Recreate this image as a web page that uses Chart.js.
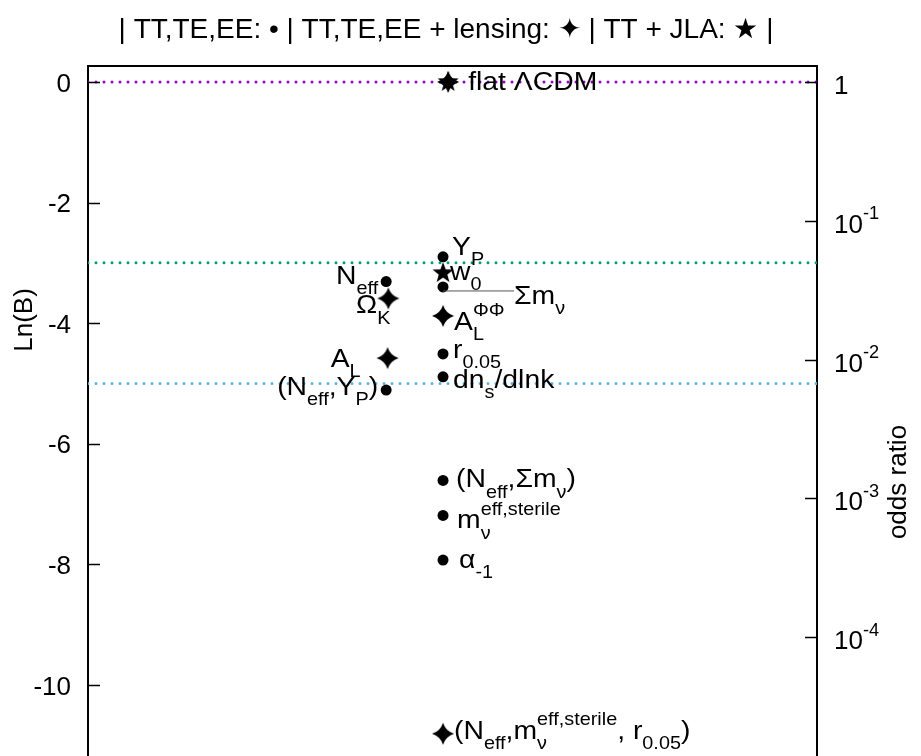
<!DOCTYPE html>
<html>
<head>
<meta charset="utf-8">
<script src="https://cdn.jsdelivr.net/npm/chart.js@4/dist/chart.umd.min.js"></script>
<style>
  html, body { margin: 0; padding: 0; background: #fff; overflow: hidden; }
  canvas { display: block; }
</style>
</head>
<body>
<canvas id="c" width="921" height="756"></canvas>
<script>
// Bayes factors of extended models relative to flat ΛCDM
const titleText = '| TT,TE,EE: • | TT,TE,EE + lensing: ✦ | TT + JLA: ★ |';

// TT,TE,EE (filled circles)
const ttteeeModels = ['flat ΛCDM', 'Y_{P}', 'Σm_{ν}', 'r_{0.05}', 'dn_{s}/dlnk',
  '(N_{eff},Σm_{ν})', 'm_{ν}^{eff,sterile}', 'α_{-1}', 'N_{eff}', '(N_{eff},Y_{P})'];
const ttteeeLnB = [0, -2.90, -3.40, -4.51, -4.89, -6.61, -7.19, -7.93, -3.31, -5.11];
const ttteeeColumn = [4.94, 4.87, 4.87, 4.87, 4.87, 4.87, 4.87, 4.87, 4.09, 4.09];

// TT,TE,EE + lensing (four-pointed stars)
const lensingModels = ['flat ΛCDM', 'A_{L}^{ΦΦ}', '(N_{eff},m_{ν}^{eff,sterile}, r_{0.05})', 'Ω_{K}', 'A_{L}'];
const lensingLnB = [0, -3.88, -10.81, -3.59, -4.58];
const lensingColumn = [4.94, 4.87, 4.87, 4.12, 4.11];

// TT + JLA (five-pointed stars)
const jlaModels = ['flat ΛCDM', 'w_{0}'];
const jlaLnB = [0, -3.17];
const jlaColumn = [4.94, 4.87];

// reference evidence levels
const levelLnB = [0, -3, -5];
const levelColors = ['#9400d3', '#009e73', '#56b4e9'];

// axis ticks
const lnBTicks = [0, -2, -4, -6, -8, -10];
const oddsExponents = [0, -1, -2, -3, -4];

const FAMILY = '"Liberation Sans", Arial, Helvetica, sans-serif';
const TICK_SIZE = 26;
const LABEL_SIZE = 26;
const LABEL_STRETCH = 1.09;

// label placement around each marker (pixels, baseline-relative)
const labelPlacement = {
  'flat ΛCDM': { dx: 20, dy: 8 },
  'Y_{P}': { dx: 9, dy: -2 },
  'w_{0}': { dx: 7, dy: 7 },
  'Σm_{ν}': { dx: 71, dy: 17, leader: 4 },
  'A_{L}^{ΦΦ}': { dx: 11, dy: 14 },
  'r_{0.05}': { dx: 10, dy: 4 },
  'dn_{s}/dlnk': { dx: 10, dy: 11 },
  '(N_{eff},Σm_{ν})': { dx: 13, dy: 7 },
  'm_{ν}^{eff,sterile}': { dx: 14, dy: 13 },
  'α_{-1}': { dx: 16, dy: 8 },
  '(N_{eff},m_{ν}^{eff,sterile}, r_{0.05})': { dx: 11, dy: 5 },
  'N_{eff}': { dx: -8, dy: 2, align: 'right' },
  'Ω_{K}': { dx: 2, dy: 15, align: 'right' },
  'A_{L}': { dx: -27, dy: 9, align: 'right' },
  '(N_{eff},Y_{P})': { dx: -8, dy: 5, align: 'right' }
};

// ---- rich text with sub/superscripts ----
function parseRich(s) {
  const segs = [];
  let i = 0, buf = '';
  const flush = () => { if (buf) { segs.push({ k: 'n', t: buf }); buf = ''; } };
  while (i < s.length) {
    const c = s[i];
    if ((c === '_' || c === '^') && s[i + 1] === '{') {
      flush();
      const j = s.indexOf('}', i);
      segs.push({ k: c === '_' ? 'sub' : 'sup', t: s.slice(i + 2, j) });
      i = j + 1;
    } else { buf += c; i++; }
  }
  flush();
  const groups = [];
  for (const sg of segs) {
    const last = groups[groups.length - 1];
    if (sg.k === 'n') groups.push(sg);
    else if (last && last.k === 'script' && last[sg.k] === undefined) last[sg.k] = sg.t;
    else groups.push({ k: 'script', [sg.k]: sg.t });
  }
  return groups;
}

function drawRich(ctx, s, x, y, size, align, stretch) {
  const sx = stretch || 1;
  const groups = parseRich(s);
  const big = size + 'px ' + FAMILY;
  const small = (size * 0.7) + 'px ' + FAMILY;
  const widths = groups.map(g => {
    if (g.k === 'n') { ctx.font = big; return ctx.measureText(g.t).width; }
    ctx.font = small;
    return Math.max(g.sub ? ctx.measureText(g.sub).width : 0, g.sup ? ctx.measureText(g.sup).width : 0);
  });
  const total = widths.reduce((a, b) => a + b, 0) * sx;
  const x0 = align === 'right' ? x - total : align === 'center' ? x - total / 2 : x;
  ctx.save();
  ctx.translate(x0, y);
  ctx.scale(sx, 1);
  ctx.textAlign = 'left';
  ctx.textBaseline = 'alphabetic';
  let cx = 0;
  groups.forEach((g, i) => {
    if (g.k === 'n') { ctx.font = big; ctx.fillText(g.t, cx, 0); }
    else {
      ctx.font = small;
      if (g.sub !== undefined) ctx.fillText(g.sub, cx, size * 0.4);
      if (g.sup !== undefined) ctx.fillText(g.sup, cx, -size * 0.52);
    }
    cx += widths[i];
  });
  ctx.restore();
  return total;
}

// ---- marker shapes ----
function makeMarker(size, draw) {
  const c = document.createElement('canvas');
  c.width = c.height = size;
  const g = c.getContext('2d');
  g.translate(size / 2, size / 2);
  g.fillStyle = '#000';
  g.beginPath();
  draw(g);
  g.fill();
  return c;
}
const fourStar = makeMarker(24, g => {
  const r = 11, k = 2.6;
  g.moveTo(0, -r);
  g.quadraticCurveTo(k, -k, r, 0);
  g.quadraticCurveTo(k, k, 0, r);
  g.quadraticCurveTo(-k, k, -r, 0);
  g.quadraticCurveTo(-k, -k, 0, -r);
  g.closePath();
});
const fiveStar = makeMarker(24, g => {
  const R = 11, r = 4.5;
  for (let i = 0; i < 10; i++) {
    const a = -Math.PI / 2 + i * Math.PI / 5;
    const rr = i % 2 ? r : R;
    g.lineTo(rr * Math.cos(a), rr * Math.sin(a));
  }
  g.closePath();
});

function points(cols, vals) { return vals.map((v, i) => ({ x: cols[i], y: v })); }

const levelSets = levelLnB.map((lv, i) => ({
  type: 'line',
  data: [{ x: 0, y: lv }, { x: 10, y: lv }],
  borderColor: levelColors[i],
  borderWidth: 3,
  borderDash: [0, 8],
  borderCapStyle: 'round',
  pointRadius: 0,
  showLine: true,
  order: 3
}));

const markerSets = [
  { label: 'TT,TE,EE', models: ttteeeModels, data: points(ttteeeColumn, ttteeeLnB),
    pointStyle: 'circle', pointRadius: 5.5, backgroundColor: '#000', borderColor: '#000', borderWidth: 0, order: 1 },
  { label: 'TT,TE,EE + lensing', models: lensingModels, data: points(lensingColumn, lensingLnB),
    pointStyle: fourStar, pointRadius: 11, backgroundColor: '#000', borderColor: '#000', order: 1 },
  { label: 'TT + JLA', models: jlaModels, data: points(jlaColumn, jlaLnB),
    pointStyle: fiveStar, pointRadius: 11, backgroundColor: '#000', borderColor: '#000', order: 1 }
];

// frame ticks, marker labels, axis titles and headline
const decorPlugin = {
  id: 'decor',
  afterDatasetsDraw(chart) {
    const ctx = chart.ctx;
    const area = chart.chartArea;
    const yS = chart.scales.y, y2S = chart.scales.y2;
    ctx.save();
    ctx.fillStyle = '#000';

    // inward tick marks
    ctx.strokeStyle = '#000';
    ctx.lineWidth = 1.5;
    ctx.beginPath();
    yS.ticks.forEach(t => {
      const py = Math.round(yS.getPixelForValue(t.value)) + 0.5;
      ctx.moveTo(area.left, py); ctx.lineTo(area.left + 12, py);
    });
    y2S.ticks.forEach(t => {
      const py = Math.round(y2S.getPixelForValue(t.value)) + 0.5;
      ctx.moveTo(area.right, py); ctx.lineTo(area.right - 12, py);
    });
    ctx.stroke();

    // odds-ratio tick labels
    y2S.ticks.forEach((t, i) => {
      const e = oddsExponents[i];
      const py = y2S.getPixelForValue(t.value);
      const txt = e === 0 ? '1' : '10^{' + e + '}';
      drawRich(ctx, txt, area.right + 17, py + 12, TICK_SIZE, 'left', 1);
    });

    // model labels
    const done = new Set();
    chart.data.datasets.forEach((ds, di) => {
      if (!ds.models) return;
      const meta = chart.getDatasetMeta(di);
      ds.models.forEach((name, i) => {
        if (done.has(name)) return;
        done.add(name);
        const p = labelPlacement[name];
        const el = meta.data[i];
        if (p.leader !== undefined) {
          ctx.save();
          ctx.strokeStyle = '#555';
          ctx.lineWidth = 1;
          ctx.beginPath();
          ctx.moveTo(el.x, el.y + p.leader);
          ctx.lineTo(el.x + p.dx, el.y + p.leader);
          ctx.stroke();
          ctx.restore();
        }
        drawRich(ctx, name, el.x + p.dx, el.y + p.dy, LABEL_SIZE, p.align || 'left', LABEL_STRETCH);
      });
    });

    // axis titles
    ctx.font = TICK_SIZE + 'px ' + FAMILY;
    ctx.textAlign = 'center';
    ctx.textBaseline = 'middle';
    ctx.save();
    ctx.translate(25, 320);
    ctx.rotate(-Math.PI / 2);
    ctx.fillText('Ln(B)', 0, 0);
    ctx.restore();
    ctx.save();
    ctx.translate(899, 482);
    ctx.rotate(-Math.PI / 2);
    ctx.fillText('odds ratio', 0, 0);
    ctx.restore();

    // headline
    ctx.font = '28px ' + FAMILY;
    ctx.textAlign = 'center';
    ctx.textBaseline = 'alphabetic';
    ctx.fillText(titleText, 446, 38);
    ctx.restore();
  }
};

const yMin = -11.18, yMax = 0.265;

function noPad(s) {
  s.paddingTop = 0; s.paddingBottom = 0; s.paddingLeft = 0; s.paddingRight = 0;
}

new Chart(document.getElementById('c'), {
  type: 'scatter',
  data: { datasets: [...markerSets, ...levelSets] },
  options: {
    responsive: false,
    animation: false,
    devicePixelRatio: 1,
    layout: { autoPadding: false, padding: { top: 66, left: 0, right: 0, bottom: 0 } },
    plugins: { legend: { display: false }, tooltip: { enabled: false }, title: { display: false } },
    scales: {
      x: {
        type: 'linear', position: 'top', min: 0, max: 10,
        ticks: { display: false },
        grid: { drawOnChartArea: false, drawTicks: false },
        border: { display: true, color: '#000', width: 2 },
        afterFit: s => { s.height = 0; noPad(s); }
      },
      y: {
        position: 'left', min: yMin, max: yMax,
        afterBuildTicks: s => { s.ticks = lnBTicks.map(v => ({ value: v })); },
        ticks: {
          color: '#000', padding: 17, labelOffset: 2.5,
          font: { family: FAMILY, size: TICK_SIZE },
          callback: v => String(v)
        },
        grid: { drawOnChartArea: false, drawTicks: false },
        border: { display: true, color: '#000', width: 2 },
        afterFit: s => { s.width = 88; noPad(s); }
      },
      y2: {
        position: 'right', min: yMin, max: yMax,
        afterBuildTicks: s => { s.ticks = oddsExponents.map(e => ({ value: e * Math.LN10 })); },
        ticks: { display: false },
        grid: { drawOnChartArea: false, drawTicks: false },
        border: { display: true, color: '#000', width: 2 },
        afterFit: s => { s.width = 104; noPad(s); }
      }
    }
  },
  plugins: [decorPlugin]
});
</script>
</body>
</html>
